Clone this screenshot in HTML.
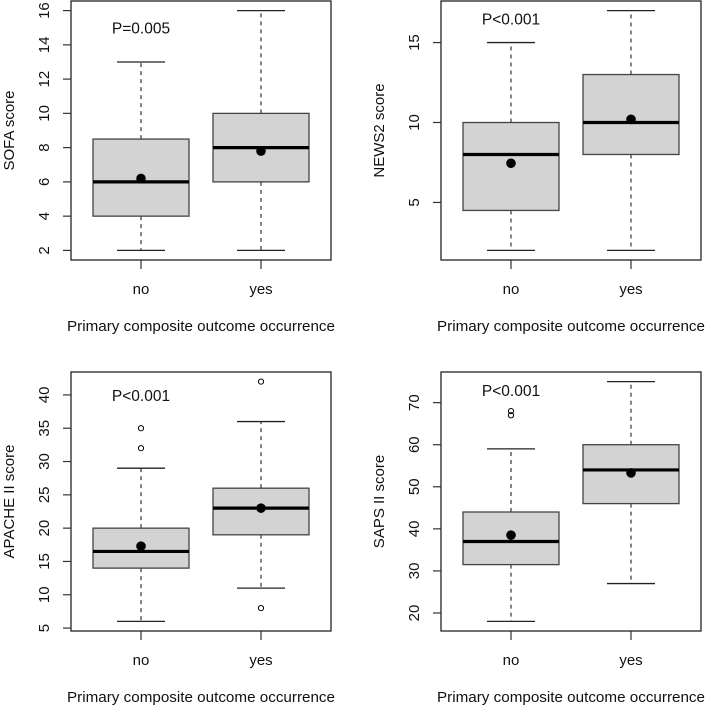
<!DOCTYPE html>
<html><head><meta charset="utf-8"><style>
html,body{margin:0;padding:0;background:#fff}
svg{display:block;font-family:"Liberation Sans",Arial,sans-serif}
</style></head><body>
<svg id="fig" width="709" height="706" viewBox="0 0 709 706" xmlns="http://www.w3.org/2000/svg"></svg>
<script>
// Panel data (top-left, top-right, bottom-left, bottom-right)
const panelTitles = ["SOFA score", "NEWS2 score", "APACHE II score", "SAPS II score"];
const categories = ["no", "yes"];
const pLabels = ["P=0.005", "P<0.001", "P<0.001", "P<0.001"];
const pLabelY = [15, 16.5, 40, 73];
const yTicks = [[2,4,6,8,10,12,14,16],[5,10,15],[5,10,15,20,25,30,35,40],[20,30,40,50,60,70]];
// [no, yes] per panel
const whiskerLow  = [[2,2],[2,2],[6,11],[18,27]];
const q1Values    = [[4,6],[4.5,8],[14,19],[31.5,46]];
const medianValues= [[6,8],[8,10],[16.5,23],[37,54]];
const q3Values    = [[8.5,10],[10,13],[20,26],[44,60]];
const whiskerHigh = [[13,16],[15,17],[29,36],[59,75]];
const meanValues  = [[6.2,7.8],[7.45,10.2],[17.3,23],[38.5,53.3]];
const outliers    = [[[],[]],[[],[]],[[32,35],[8,42]],[[67,68],[]]];

const NS="http://www.w3.org/2000/svg";
const svg=document.getElementById('fig');
function mk(tag,attrs,parent){const e=document.createElementNS(NS,tag);for(const k in attrs)e.setAttribute(k,attrs[k]);(parent||svg).appendChild(e);return e;}

const origins=[[71,1],[441,1],[71,372],[441,372]];
const PW=260, PH=259;

for(let p=0;p<4;p++){
  const [ox,oy]=origins[p];
  const g=mk('g',{});
  
  
  // y range from data extent
  let all=[];
  for(let c=0;c<2;c++){all.push(whiskerLow[p][c],whiskerHigh[p][c],...outliers[p][c]);}
  const dmin=Math.min(...all), dmax=Math.max(...all), r=dmax-dmin;
  const lo=dmin-0.04*r, hi=dmax+0.04*r;
  const y=v=>oy+PH-(v-lo)/(hi-lo)*PH;
  const x=i=>ox+PW/2+(i-0.5)*120;
  // boxes
  for(let c=0;c<2;c++){
    const cx=x(c);
    const bg=mk('g',{},g);
    
    
    mk('line',{x1:cx,x2:cx,y1:y(q3Values[p][c]),y2:y(whiskerHigh[p][c]),stroke:'#333','stroke-width':1.2,'stroke-dasharray':'4,4'},bg);
    mk('line',{x1:cx,x2:cx,y1:y(q1Values[p][c]),y2:y(whiskerLow[p][c]),stroke:'#333','stroke-width':1.2,'stroke-dasharray':'4,4'},bg);
    mk('line',{x1:cx-24,x2:cx+24,y1:y(whiskerHigh[p][c]),y2:y(whiskerHigh[p][c]),stroke:'#222','stroke-width':1.3},bg);
    mk('line',{x1:cx-24,x2:cx+24,y1:y(whiskerLow[p][c]),y2:y(whiskerLow[p][c]),stroke:'#222','stroke-width':1.3},bg);
    mk('rect',{x:cx-48,y:y(q3Values[p][c]),width:96,height:y(q1Values[p][c])-y(q3Values[p][c]),fill:'#d3d3d3',stroke:'#444','stroke-width':1.3},bg);
    mk('line',{x1:cx-48,x2:cx+48,y1:y(medianValues[p][c]),y2:y(medianValues[p][c]),stroke:'#000','stroke-width':3.2},bg);
    const m=mk('circle',{cx:cx,cy:y(meanValues[p][c]),r:4.8,fill:'#000'},bg);
    
    
    for(const o of outliers[p][c]){
      const oc=mk('circle',{cx:cx,cy:y(o),r:2.6,fill:'none',stroke:'#000','stroke-width':1},bg);
      
      
    }
    // x tick
    mk('line',{x1:cx,x2:cx,y1:oy+PH,y2:oy+PH+9,stroke:'#333','stroke-width':1.2},g);
    const tl=mk('text',{x:cx,y:oy+PH+34,'text-anchor':'middle','font-size':15,fill:'#111'},g);
    tl.textContent=categories[c];
    
    
  }
  // frame
  const fr=mk('rect',{x:ox,y:oy,width:PW,height:PH,fill:'none',stroke:'#222','stroke-width':1.3},g);
  
  
  // y ticks
  for(const t of yTicks[p]){
    mk('line',{x1:ox-8,x2:ox,y1:y(t),y2:y(t),stroke:'#333','stroke-width':1.2},g);
    const tt=mk('text',{x:0,y:0,'text-anchor':'middle','font-size':15,fill:'#111',transform:`translate(${ox-22},${y(t)}) rotate(-90)`},g);
    tt.textContent=t;
    
    
  }
  // y title
  const yt=mk('text',{x:0,y:0,'text-anchor':'middle','font-size':15,fill:'#111',transform:`translate(${ox-57},${oy+PH/2}) rotate(-90)`},g);
  yt.textContent=panelTitles[p];
  
  
  // x title
  const xt=mk('text',{x:ox+PW/2,y:oy+PH+71,'text-anchor':'middle','font-size':15,fill:'#111',textLength:268,lengthAdjust:'spacingAndGlyphs'},g);
  xt.textContent='Primary composite outcome occurrence';
  
  
  // p label
  const pl=mk('text',{x:x(0),y:y(pLabelY[p])+6,'text-anchor':'middle','font-size':15.5,fill:'#111'},g);
  pl.textContent=pLabels[p];
  
  
}
</script>
</body></html>
